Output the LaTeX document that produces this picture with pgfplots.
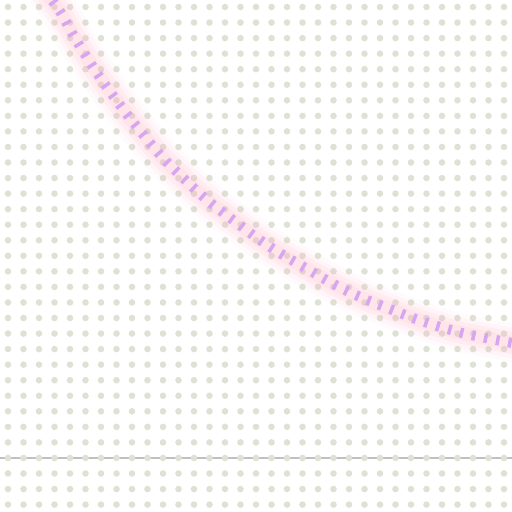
\documentclass[border=0pt]{standalone}
\usepackage{pgfplots}
\pgfplotsset{compat=1.18}
\definecolor{dotc}{RGB}{221,226,213}
\definecolor{glowc}{RGB}{255,180,198}
\definecolor{dashc}{RGB}{214,166,240}
\definecolor{basec}{RGB}{192,192,192}
\pgfplotstableread{
x y
45 -9
61 13
72 33
86 56
99 76
114 97
129 117
146 138
162 157
180 175
198 192
217 208
237 223
257 238
278 252
302 266
321 277
343 289
367 300
390 309
413 318
437 326
462 333
486 338
512 343
522 345
}\curve
\begin{document}
\begin{tikzpicture}
\begin{axis}[
  scale only axis, width=512pt, height=512pt,
  xmin=0, xmax=512, ymin=0, ymax=512,
  y dir=reverse, hide axis, clip=true,
]
% baseline
\addplot[basec, line width=2.8pt] coordinates {(-10,458) (522,458)};
% dot grid background
\foreach \i in {0,...,32}{
  \foreach \j in {0,...,32}{
    \edef\temp{\noexpand\fill[dotc] (axis cs:{8+15.5*\i},{7+15.55*\j}) circle[radius=3.3pt];}
    \temp
  }
}
% glow layers
\addplot[glowc, opacity=0.06, line width=38pt, smooth] table {\curve};
\addplot[glowc, opacity=0.09, line width=30pt, smooth] table {\curve};
\addplot[glowc, opacity=0.12, line width=22pt, smooth] table {\curve};
\addplot[glowc, opacity=0.15, line width=14pt, smooth] table {\curve};
% dashed line
\addplot[dashc, line width=10pt, smooth, dash pattern=on 3.5pt off 8.8pt] table {\curve};
\end{axis}
\pgfresetboundingbox
\path (current axis.south west) rectangle (current axis.north east);
\end{tikzpicture}
\end{document}
